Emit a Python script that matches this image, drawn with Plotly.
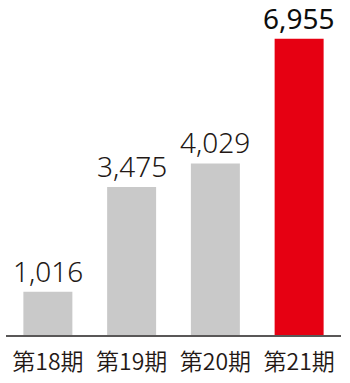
import plotly.graph_objects as go

categories = ["第18期", "第19期", "第20期", "第21期"]
values = [1016, 3475, 4029, 6955]
labels = ["1,016", "3,475", "4,029", "6,955"]
colors = ["#c9c9c9", "#c9c9c9", "#c9c9c9", "#e60012"]
text_colors = ["#231815", "#231815", "#231815", "#0d0d0d"]
weights = [300, 300, 300, 400]

fig = go.Figure(go.Bar(
    x=categories, y=values,
    marker=dict(color=colors, line=dict(width=0)),
    cliponaxis=False,
))
for c, v, t, tc, w in zip(categories, values, labels, text_colors, weights):
    fig.add_annotation(x=c, y=v, text=t, showarrow=False, yanchor="bottom", yshift=0,
                       font=dict(family="Noto Sans", size=28, color=tc, weight=w))
fig.update_layout(
    width=350, height=383,
    margin=dict(l=6, r=9, t=20, b=45),
    paper_bgcolor="white", plot_bgcolor="white",
    bargap=0.415, showlegend=False,
    xaxis=dict(showline=True, linecolor="#595757", linewidth=2, ticks="", showgrid=False,
               ticklabelstandoff=5,
               tickfont=dict(family="Noto Sans CJK JP", size=23, color="#231815", weight=350)),
    yaxis=dict(visible=False, range=[0, 7395], showgrid=False, zeroline=False),
)
fig.write_html("out.html")
